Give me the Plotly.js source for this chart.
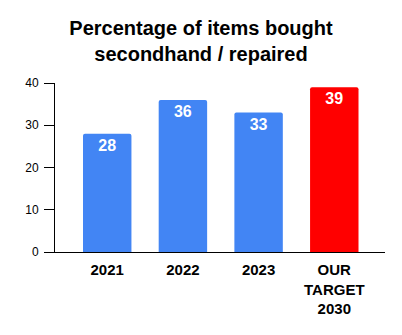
<!DOCTYPE html>
<html>
<head>
<meta charset="utf-8">
<script src="https://cdn.plot.ly/plotly-3.0.1.min.js"></script>
<style>html,body{margin:0;padding:0;background:#fff;}#chart{width:402px;height:335px;}</style>
</head>
<body>
<div id="chart"></div>
<script>
const categories = ["2021", "2022", "2023", "OUR<br>TARGET<br>2030"];
const values = [28, 36, 33, 39];
const labels = ["28", "36", "33", "39"];
const colors = ["#4285F4", "#4285F4", "#4285F4", "#FF0000"];

const trace = {
  type: "bar",
  x: categories,
  y: values,
  text: labels,
  textposition: "inside",
  insidetextanchor: "end",
  textangle: 0,
  textfont: {family: "Liberation Sans, Arial, sans-serif", size: 16, color: "#ffffff", weight: "bold"},
  marker: {color: colors, cornerradius: 2},
  width: 0.64,
  hoverinfo: "none"
};

const layout = {
  width: 402, height: 335,
  margin: {l: 55, r: 17, t: 83, b: 83},
  paper_bgcolor: "#fff", plot_bgcolor: "#fff",
  title: {
    text: "<b>Percentage of items bought<br>secondhand / repaired</b>",
    x: 0.5, xanchor: "center", y: 0.895, yanchor: "top",
    font: {family: "Liberation Sans, Arial, sans-serif", size: 20, color: "#000"}
  },
  xaxis: {
    type: "category",
    range: [-0.69, 3.67],
    showline: true, linecolor: "#000", linewidth: 1,
    ticks: "", showgrid: false, zeroline: false,
    ticklabelstandoff: 4,
    tickfont: {family: "Liberation Sans, Arial, sans-serif", size: 15, color: "#000", weight: "bold"}
  },
  yaxis: {
    range: [0, 40],
    tickvals: [0, 10, 20, 30, 40],
    showline: true, linecolor: "#000", linewidth: 1,
    ticks: "outside", ticklen: 10, tickcolor: "#000",
    ticklabelstandoff: 3,
    showgrid: false, zeroline: false,
    tickfont: {family: "Liberation Sans, Arial, sans-serif", size: 12, color: "#000"}
  },
  showlegend: false
};

Plotly.newPlot("chart", [trace], layout, {staticPlot: true, displayModeBar: false});
</script>
</body>
</html>
